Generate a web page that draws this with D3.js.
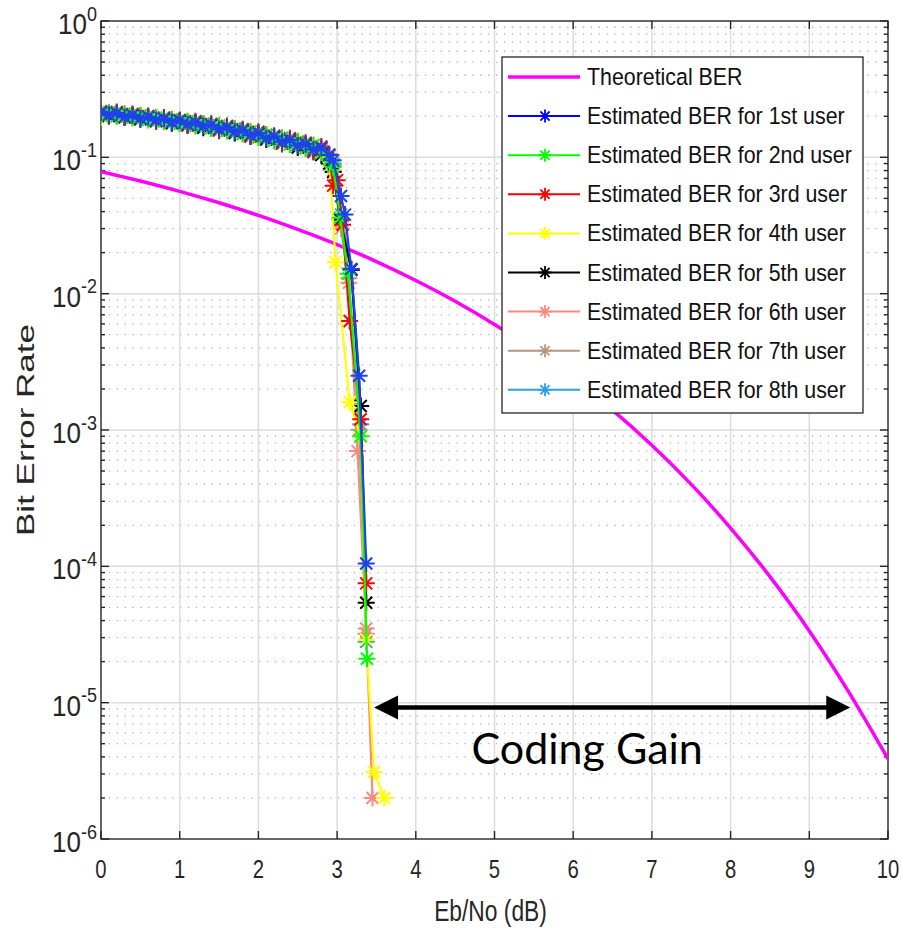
<!DOCTYPE html>
<html><head><meta charset="utf-8">
<script src="https://cdn.jsdelivr.net/npm/d3@7"></script>
<style>body{margin:0;background:#fff} svg{display:block}</style>
</head><body>
<svg id="c" width="902" height="939"></svg>
<script>
// ---------- DATA ----------
const xTicks = [0,1,2,3,4,5,6,7,8,9,10];
const yTickExps = [0,-1,-2,-3,-4,-5,-6];

const theoryEbNo = [0,0.5,1,1.5,2,2.5,3,3.5,4,4.5,5,5.5,6,6.5,7,7.5,8,8.5,9,9.5,10];
const theoryBER  = [0.0786,0.0671,0.0563,0.0464,0.0375,0.0296,0.0229,0.0172,0.0125,0.0088,0.00595,0.00388,0.00239,0.00140,0.000773,0.000399,0.000191,0.000084,0.0000336,0.0000120,0.00000387];

const ebno = [0,0.1,0.2,0.3,0.4,0.5,0.6,0.7,0.8,0.9,1.0,1.1,1.2,1.3,1.4,1.5,1.6,1.7,1.8,1.9,2.0,2.1,2.2,2.3,2.4,2.5,2.6,2.7,2.8,2.9];

const user1BER = [0.214,0.205,0.211,0.198,0.204,0.193,0.198,0.187,0.192,0.181,0.186,0.175,0.180,0.169,0.173,0.161,0.166,0.154,0.158,0.146,0.150,0.138,0.142,0.130,0.134,0.122,0.125,0.114,0.117,0.104];
const user2BER = [0.203,0.213,0.200,0.208,0.195,0.203,0.188,0.196,0.183,0.190,0.176,0.184,0.170,0.177,0.163,0.171,0.156,0.163,0.148,0.155,0.140,0.147,0.132,0.139,0.124,0.131,0.116,0.123,0.108,0.096];
const user3BER = [0.218,0.207,0.215,0.196,0.208,0.202,0.201,0.184,0.196,0.188,0.188,0.171,0.184,0.175,0.176,0.157,0.170,0.161,0.161,0.142,0.154,0.145,0.144,0.126,0.138,0.129,0.128,0.110,0.120,0.105];
const user4BER = [0.198,0.207,0.202,0.205,0.194,0.200,0.189,0.194,0.182,0.187,0.177,0.181,0.171,0.173,0.164,0.167,0.157,0.159,0.149,0.152,0.141,0.144,0.133,0.136,0.125,0.128,0.117,0.120,0.109,0.100];
const user5BER = [0.212,0.201,0.207,0.197,0.202,0.190,0.196,0.185,0.190,0.178,0.184,0.173,0.178,0.165,0.171,0.159,0.164,0.151,0.156,0.143,0.148,0.135,0.140,0.126,0.132,0.118,0.123,0.110,0.104,0.090];
const user6BER = [0.207,0.214,0.203,0.209,0.199,0.200,0.194,0.194,0.188,0.189,0.182,0.183,0.176,0.176,0.169,0.169,0.162,0.162,0.154,0.154,0.146,0.146,0.138,0.138,0.130,0.130,0.122,0.121,0.113,0.103];
const user7BER = [0.213,0.209,0.202,0.204,0.197,0.198,0.191,0.192,0.185,0.186,0.179,0.180,0.173,0.173,0.166,0.166,0.159,0.159,0.151,0.151,0.143,0.143,0.135,0.135,0.127,0.127,0.119,0.119,0.111,0.101];
const user8BER = [0.210,0.205,0.208,0.200,0.203,0.194,0.197,0.188,0.191,0.182,0.185,0.176,0.179,0.168,0.172,0.162,0.165,0.155,0.157,0.147,0.149,0.139,0.141,0.131,0.133,0.123,0.125,0.115,0.116,0.102];

// waterfall tails (Eb/No, BER)
const user1TailX = [2.95,3.05,3.10,3.18,3.28,3.37];
const user1TailBER = [0.095,0.052,0.038,0.0152,0.0025,0.000105];
const user2TailX = [2.95,3.04,3.14,3.30,3.38];
const user2TailBER = [0.085,0.036,0.014,0.0009,0.000021];
const user3TailX = [2.95,3.00,3.07,3.16,3.30,3.37];
const user3TailBER = [0.062,0.068,0.032,0.0063,0.0012,0.000075];
const user4TailX = [2.98,3.16,3.30,3.37,3.47,3.60];
const user4TailBER = [0.017,0.0016,0.0009,0.000029,0.0000031,0.000002];
const user5TailX = [2.95,3.04,3.18,3.30,3.37];
const user5TailBER = [0.078,0.035,0.015,0.0015,0.000054];
const user6TailX = [2.95,3.05,3.15,3.26,3.37,3.45];
const user6TailBER = [0.080,0.030,0.012,0.0007,0.000035,0.000002];
const user7TailX = [2.95,3.05,3.15,3.28,3.37];
const user7TailBER = [0.088,0.034,0.013,0.0010,0.000032];
const user8TailX = [2.95,3.05,3.18,3.30,3.37];
const user8TailBER = [0.090,0.038,0.015,0.0011,0.000028];

const legendLabels = ["Theoretical BER","Estimated BER for 1st user","Estimated BER for 2nd user","Estimated BER for 3rd user","Estimated BER for 4th user","Estimated BER for 5th user","Estimated BER for 6th user","Estimated BER for 7th user","Estimated BER for 8th user"];

// annotation (data units)
const gainStartEbNo = 3.47, gainEndEbNo = 9.52, gainBER = 9.2e-6;
const gainLabel = "Coding Gain";

// ---------- STYLE ----------
const theoryColor = "#ff00ff";
const userColors = ["#1f3ff0","#00ff00","#ff0000","#ffff00","#000000","#fa8a80","#b8977e","#2aa0e8"];
const axisColor = "#262626";

// ---------- BUILD ----------
const users = [
  {x: ebno.concat(user1TailX), y: user1BER.concat(user1TailBER)},
  {x: ebno.concat(user2TailX), y: user2BER.concat(user2TailBER)},
  {x: ebno.concat(user3TailX), y: user3BER.concat(user3TailBER)},
  {x: ebno.concat(user4TailX), y: user4BER.concat(user4TailBER)},
  {x: ebno.concat(user5TailX), y: user5BER.concat(user5TailBER)},
  {x: ebno.concat(user6TailX), y: user6BER.concat(user6TailBER)},
  {x: ebno.concat(user7TailX), y: user7BER.concat(user7TailBER)},
  {x: ebno.concat(user8TailX), y: user8BER.concat(user8TailBER)}
].map((u,i)=>({pts: u.x.map((v,j)=>[v,u.y[j]]), color: userColors[i]}));

const m = {left:101, right:888, top:21, bottom:839};
const svg = d3.select("#c");
const x = d3.scaleLinear().domain([0,10]).range([m.left,m.right]);
const y = d3.scaleLog().domain([1e-6,1]).range([m.bottom,m.top]);

const font = "'Liberation Sans', Arial, sans-serif";

// grid
const g = svg.append("g");
const minorVals = [];
for (let e=-6;e<0;e++) for (let k=2;k<=9;k++) minorVals.push(k*Math.pow(10,e));
g.selectAll(".ymin").data(minorVals).enter().append("line")
  .attr("x1",m.left).attr("x2",m.right).attr("y1",d=>y(d)).attr("y2",d=>y(d))
  .attr("stroke","#b4b4b4").attr("stroke-width",1.3).attr("stroke-dasharray","1.3,6.6");
g.selectAll(".xmaj").data(xTicks.slice(1,-1)).enter().append("line")
  .attr("x1",d=>x(d)).attr("x2",d=>x(d)).attr("y1",m.top).attr("y2",m.bottom)
  .attr("stroke","#dcdcdc").attr("stroke-width",1.5);
g.selectAll(".ymaj").data(yTickExps.slice(1,-1)).enter().append("line")
  .attr("x1",m.left).attr("x2",m.right).attr("y1",d=>y(Math.pow(10,d))).attr("y2",d=>y(Math.pow(10,d)))
  .attr("stroke","#dcdcdc").attr("stroke-width",1.5);

// axes box + ticks
const ax = svg.append("g").attr("stroke",axisColor).attr("stroke-width",1.4);
ax.append("rect").attr("x",m.left).attr("y",m.top).attr("width",m.right-m.left).attr("height",m.bottom-m.top).attr("fill","none");
xTicks.forEach(t=>{
  ax.append("line").attr("x1",x(t)).attr("x2",x(t)).attr("y1",m.bottom).attr("y2",m.bottom-8);
  ax.append("line").attr("x1",x(t)).attr("x2",x(t)).attr("y1",m.top).attr("y2",m.top+8);
});
yTickExps.forEach(e=>{
  const yy=y(Math.pow(10,e));
  ax.append("line").attr("x1",m.left).attr("x2",m.left+8).attr("y1",yy).attr("y2",yy);
  ax.append("line").attr("x1",m.right).attr("x2",m.right-8).attr("y1",yy).attr("y2",yy);
});
minorVals.forEach(v=>{
  const yy=y(v);
  ax.append("line").attr("x1",m.left).attr("x2",m.left+4).attr("y1",yy).attr("y2",yy);
  ax.append("line").attr("x1",m.right).attr("x2",m.right-4).attr("y1",yy).attr("y2",yy);
});

// tick labels (slightly tall/condensed like the reference)
svg.selectAll(".xl").data(xTicks).enter().append("text")
  .attr("transform",d=>`translate(${x(d)},${m.bottom+39}) scale(0.92,1.15)`).attr("text-anchor","middle")
  .attr("font-family",font).attr("font-size",22).attr("fill",axisColor).text(d=>d);
yTickExps.forEach(e=>{
  const t = svg.append("text").attr("transform",`translate(${m.left-4},${y(Math.pow(10,e))+13}) scale(1,1.1)`)
    .attr("text-anchor","end").attr("font-family",font).attr("font-size",26).attr("fill",axisColor);
  t.append("tspan").text("10");
  t.append("tspan").attr("dy",-12).attr("font-size",18).text(String(e));
});
// axis titles
svg.append("text").attr("transform",`translate(${(m.left+m.right)/2-4},921) scale(0.95,1.2)`).attr("text-anchor","middle")
  .attr("font-family",font).attr("font-size",24).attr("fill",axisColor).text("Eb/No (dB)");
svg.append("text").attr("transform",`translate(34,${(m.top+m.bottom)/2}) rotate(-90)`).attr("text-anchor","middle")
  .attr("font-family",font).attr("font-size",24).attr("fill",axisColor)
  .attr("textLength",212).attr("lengthAdjust","spacingAndGlyphs").text("Bit Error Rate");

// clip
svg.append("clipPath").attr("id","clp").append("rect").attr("x",m.left).attr("y",m.top).attr("width",m.right-m.left).attr("height",m.bottom-m.top);
const plot = svg.append("g").attr("clip-path","url(#clp)");

// theory
const line = d3.line().x(d=>x(d[0])).y(d=>y(d[1])).curve(d3.curveMonotoneX);
plot.append("path").datum(theoryEbNo.map((v,i)=>[v,theoryBER[i]]))
  .attr("d",line).attr("fill","none").attr("stroke",theoryColor).attr("stroke-width",3.5);

// star marker
function star(s){const d=s*0.7071;return `M${-s},0L${s},0M0,${-s}L0,${s}M${-d},${-d}L${d},${d}M${-d},${d}L${d},${-d}`;}
const lineLin = d3.line().x(d=>x(d[0])).y(d=>y(d[1]));
// draw 8th..1st so user1 is on top
users.slice().reverse().forEach(u=>{
  const gg = plot.append("g");
  gg.append("path").datum(u.pts).attr("d",lineLin).attr("fill","none").attr("stroke",u.color).attr("stroke-width",2.2);
  gg.selectAll("path.m").data(u.pts).enter().append("path").attr("class","m")
    .attr("transform",d=>`translate(${x(d[0])},${y(d[1])})`).attr("d",star(8.5))
    .attr("stroke",u.color).attr("stroke-width",2).attr("fill","none");
});

// legend
const lg = svg.append("g");
const lx=502, ly=57, lw=361, lh=356, rowH=39.1;
lg.append("rect").attr("x",lx).attr("y",ly).attr("width",lw).attr("height",lh).attr("fill","#fff").attr("stroke",axisColor).attr("stroke-width",1.3);
legendLabels.forEach((lab,i)=>{
  const cy = ly+20+i*rowH;
  const col = i===0?theoryColor:(i===1?"#0000ff":userColors[i-1]);
  lg.append("line").attr("x1",lx+6).attr("x2",lx+78).attr("y1",cy).attr("y2",cy).attr("stroke",col).attr("stroke-width",i===0?3.5:2);
  if(i>0) lg.append("path").attr("transform",`translate(${lx+43},${cy})`).attr("d",star(6.5)).attr("stroke",col).attr("stroke-width",1.8).attr("fill","none");
  lg.append("text").attr("transform",`translate(${lx+85},${cy+8}) scale(0.95,1.1)`).attr("font-family",font).attr("font-size",22.5).attr("fill","#111").text(lab);
});

// coding gain arrow
const ag = svg.append("g");
const ax1=x(gainStartEbNo), ax2=x(gainEndEbNo), ay=y(gainBER), hl=24, hw=12;
ag.append("line").attr("x1",ax1+hl-2).attr("x2",ax2-hl+2).attr("y1",ay).attr("y2",ay).attr("stroke","#000").attr("stroke-width",4.5);
ag.append("path").attr("d",`M${ax1},${ay}L${ax1+hl},${ay-hw}L${ax1+hl},${ay+hw}Z`).attr("fill","#000");
ag.append("path").attr("d",`M${ax2},${ay}L${ax2-hl},${ay-hw}L${ax2-hl},${ay+hw}Z`).attr("fill","#000");
ag.append("text").attr("x",(ax1+ax2)/2-25).attr("y",ay+56).attr("text-anchor","middle")
  .attr("font-family","Lato, 'Open Sans', sans-serif").attr("font-size",43).attr("fill","#000").text(gainLabel);
</script>
</body></html>
